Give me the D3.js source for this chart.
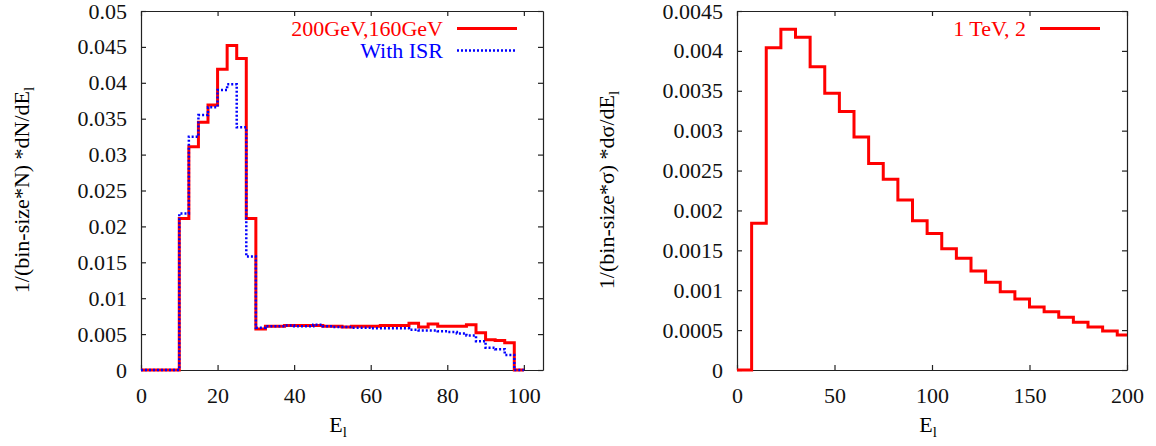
<!DOCTYPE html>
<html>
<head>
<meta charset="utf-8">
<script src="https://cdn.jsdelivr.net/npm/d3@7"></script>
<style>
  body { margin: 0; background: white; }
  svg text { font-family: "Liberation Serif", "DejaVu Serif", serif; }
</style>
</head>
<body>
<div class="container"></div>
<script>
// left panel: 2.5 GeV bins starting at 0
const leftBinWidth = 2.5;
const leftRed = [0, 0, 0, 0, 0.0211, 0.0311, 0.0345, 0.0369, 0.0419, 0.0452, 0.0434, 0.0211,
  0.0057, 0.0061, 0.0061, 0.0062, 0.0062, 0.0062, 0.0062, 0.0061, 0.0061, 0.0060, 0.0061, 0.0061,
  0.0061, 0.0062, 0.0062, 0.0062, 0.0065, 0.0060, 0.0064, 0.0061, 0.0061, 0.0061, 0.0063, 0.0052,
  0.0042, 0.0041, 0.0038, 0];
const leftBlue = [0, 0, 0, 0, 0.0218, 0.0325, 0.0355, 0.0366, 0.0390, 0.0398, 0.0338, 0.0158,
  0.0059, 0.0061, 0.0061, 0.0062, 0.0061, 0.0061, 0.0063, 0.0061, 0.0060, 0.0060, 0.0059, 0.0059,
  0.0058, 0.0058, 0.0058, 0.0058, 0.0056, 0.0055, 0.0055, 0.0054, 0.0053, 0.0051, 0.0048, 0.0040,
  0.0031, 0.0029, 0.0021, 0];
const leftXTicks = [0, 20, 40, 60, 80, 100];
const leftYTicks = [0, 0.005, 0.01, 0.015, 0.02, 0.025, 0.03, 0.035, 0.04, 0.045, 0.05];
const leftLegend = ["200GeV,160GeV", "With ISR"];

// right panel: 7.5 GeV bins starting at 0
const rightBinWidth = 7.5;
const rightRed = [0, 0.00184, 0.00404, 0.00427, 0.00417, 0.0038, 0.00347, 0.00324, 0.00292,
  0.00259, 0.00239, 0.00213, 0.00187, 0.00171, 0.00152, 0.0014, 0.00124, 0.0011, 0.00098,
  0.00089, 0.00079, 0.00073, 0.00066, 0.0006, 0.00054, 0.00049, 0.00044];
const rightXTicks = [0, 50, 100, 150, 200];
const rightYTicks = [0, 0.0005, 0.001, 0.0015, 0.002, 0.0025, 0.003, 0.0035, 0.004, 0.0045];
const rightLegend = ["1 TeV, 2"];

const w = 1156;
const h = 446;
const plotTop = 11, plotBottom = 370;
const fontSize = 22;

const svg = d3.select(".container")
  .append("svg")
  .attr("width", w)
  .attr("height", h)
  .style("background", "white");

const stepPoints = (values, bw, xmax) => {
  const pts = values.map((v, i) => [i * bw, v]);
  const last = values.length - 1;
  pts.push([Math.min((last + 1) * bw, xmax), values[last]]);
  return pts;
};

const drawPanel = (opt) => {
  const xScale = d3.scaleLinear().domain(opt.xDomain).range([opt.left, opt.right]);
  const yScale = d3.scaleLinear().domain(opt.yDomain).range([plotBottom, plotTop]);
  const g = svg.append("g");

  const styleAxis = (sel) => {
    sel.selectAll("path").attr("stroke", "#222").attr("stroke-width", 1.2);
    sel.selectAll("line").attr("stroke", "#222").attr("stroke-width", 1.2);
    sel.selectAll("text").attr("fill", "#111").style("font-size", fontSize + "px")
      .style("font-family", '"Liberation Serif", serif');
  };

  g.append("g")
    .attr("transform", "translate(0," + plotBottom + ")")
    .call(d3.axisBottom(xScale).tickValues(opt.xTicks).tickSize(-5).tickSizeOuter(0).tickPadding(17))
    .call(styleAxis);
  g.append("g")
    .attr("transform", "translate(0," + plotTop + ")")
    .call(d3.axisTop(xScale).tickValues(opt.xTicks).tickSize(-5).tickSizeOuter(0).tickFormat(""))
    .call(styleAxis);
  g.append("g")
    .attr("transform", "translate(" + opt.left + ",0)")
    .call(d3.axisLeft(yScale).tickValues(opt.yTicks).tickSize(-5).tickSizeOuter(0).tickPadding(14).tickFormat(opt.fmt))
    .call(styleAxis);
  g.append("g")
    .attr("transform", "translate(" + opt.right + ",0)")
    .call(d3.axisRight(yScale).tickValues(opt.yTicks).tickSize(-5).tickSizeOuter(0).tickFormat(""))
    .call(styleAxis);

  const line = d3.line()
    .x(d => xScale(d[0]))
    .y(d => yScale(d[1]))
    .curve(d3.curveStepAfter);

  opt.series.forEach((s, i) => {
    g.append("path")
      .datum(stepPoints(s.values, opt.bw, opt.xDomain[1]))
      .attr("d", line)
      .attr("fill", "none")
      .attr("stroke", s.color)
      .attr("stroke-width", s.width)
      .attr("stroke-dasharray", s.dash)
      .attr("stroke-linejoin", "miter");

    const ly = 28.5 + i * 22;
    g.append("text")
      .attr("x", opt.legendX - 14)
      .attr("y", ly)
      .attr("dy", "0.33em")
      .attr("text-anchor", "end")
      .attr("fill", s.color)
      .style("font-size", fontSize + "px")
      .text(s.label);
    g.append("line")
      .attr("x1", opt.legendX).attr("x2", opt.legendX + 60)
      .attr("y1", ly).attr("y2", ly)
      .attr("stroke", s.color)
      .attr("stroke-width", s.width)
      .attr("stroke-dasharray", s.dash);
  });

  // x label
  const xl = g.append("text")
    .attr("x", (opt.left + opt.right) / 2 - 4)
    .attr("y", 432)
    .attr("text-anchor", "middle")
    .style("font-size", fontSize + "px")
    .text("E");
  xl.append("tspan").attr("dy", 5).style("font-size", "15px").text("l");

  // y label
  const yl = g.append("text")
    .attr("transform", "translate(" + opt.yLabelX + ",190) rotate(-90)")
    .attr("text-anchor", "middle")
    .style("font-size", fontSize + "px")
    .text(opt.yLabel);
  yl.append("tspan").attr("dy", 5).style("font-size", "15px").text("l");
};

drawPanel({
  left: 141, right: 543,
  xDomain: [0, 105], yDomain: [0, 0.05],
  xTicks: leftXTicks, yTicks: leftYTicks,
  fmt: d => d === 0 ? "0" : String(+d.toFixed(4)),
  bw: leftBinWidth,
  legendX: 457,
  yLabelX: 29,
  yLabel: "1/(bin-size*N) *dN/dE",
  series: [
    { values: leftRed, color: "#ff0000", width: 3, dash: null, label: leftLegend[0] },
    { values: leftBlue, color: "#0000ff", width: 2.5, dash: "2,2", label: leftLegend[1] }
  ]
});

drawPanel({
  left: 737, right: 1127,
  xDomain: [0, 200], yDomain: [0, 0.0045],
  xTicks: rightXTicks, yTicks: rightYTicks,
  fmt: d => d === 0 ? "0" : String(+d.toFixed(5)),
  bw: rightBinWidth,
  legendX: 1040,
  yLabelX: 614,
  yLabel: "1/(bin-size*σ) *dσ/dE",
  series: [
    { values: rightRed, color: "#ff0000", width: 3, dash: null, label: rightLegend[0] }
  ]
});
</script>
</body>
</html>
